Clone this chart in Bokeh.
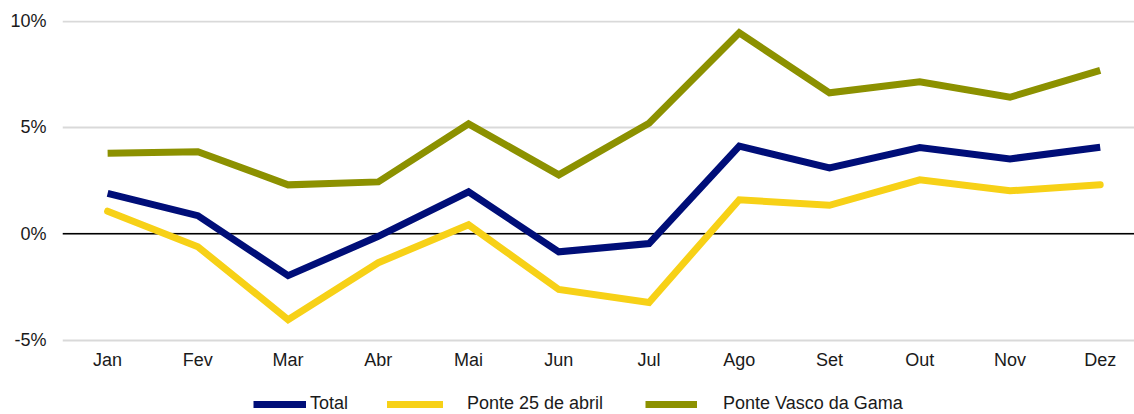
from bokeh.plotting import figure
from bokeh.models import (FixedTicker, PrintfTickFormatter, Span, Legend, LegendItem,
                          Range1d, LinearAxis)
from bokeh.embed import file_html
from bokeh.resources import INLINE

months = ["Jan", "Fev", "Mar", "Abr", "Mai", "Jun", "Jul", "Ago", "Set", "Out", "Nov", "Dez"]
total = [1.9, 0.85, -1.97, -0.12, 1.97, -0.85, -0.46, 4.12, 3.1, 4.05, 3.52, 4.07]
ponte25 = [1.06, -0.61, -4.04, -1.36, 0.42, -2.62, -3.23, 1.6, 1.34, 2.54, 2.02, 2.3]
vasco = [3.79, 3.86, 2.3, 2.44, 5.17, 2.77, 5.2, 9.45, 6.63, 7.15, 6.42, 7.68]
yticks = [-5, 0, 5, 10]
series_names = ["Total", "Ponte 25 de abril", "Ponte Vasco da Gama"]

FONT = "Liberation Sans"
FS = "18px"
Y_MIN, Y_MAX = -5.02, 10.03

# frame reaches the bottom of the canvas so the legend underneath is drawn inside it
p = figure(frame_width=1072, frame_height=394, output_backend="svg", toolbar_location=None,
           x_range=Range1d(-0.5, 11.38), y_range=Range1d(-8.5, Y_MAX),
           x_axis_location=None,
           min_border_left=62, min_border_right=0, min_border_top=20, min_border_bottom=0)
p.outline_line_color = None
p.background_fill_color = "white"
p.border_fill_color = "white"

x = list(range(len(months)))

p.xgrid.grid_line_color = None
p.ygrid.grid_line_color = "#D9D9D9"
p.ygrid.grid_line_width = 2

zero = Span(location=0, dimension="width", line_color="black", line_width=1.5, level="underlay")
p.add_layout(zero)

r1 = p.line(x, total, line_color="#000E78", line_width=7, line_join="miter")
r2 = p.line(x, ponte25, line_color="#F7D117", line_width=7, line_join="miter", line_cap="round")
r3 = p.line(x, vasco, line_color="#8C9100", line_width=7, line_join="miter")

xax = LinearAxis(ticker=FixedTicker(ticks=x), fixed_location=Y_MIN)
xax.major_label_overrides = {i: m for i, m in enumerate(months)}
xax.axis_line_color = None
xax.major_tick_line_color = None
xax.minor_tick_line_color = None
xax.major_label_text_font = FONT
xax.major_label_text_font_size = FS
xax.major_label_text_color = "#1a1a1a"
xax.major_label_standoff = 3
p.add_layout(xax, "below")

p.yaxis.ticker = FixedTicker(ticks=yticks)
p.yaxis.formatter = PrintfTickFormatter(format="%d%%")
p.yaxis.axis_line_color = None
p.yaxis.major_tick_line_color = None
p.yaxis.minor_tick_line_color = None
p.yaxis.major_label_text_font = FONT
p.yaxis.major_label_text_font_size = FS
p.yaxis.major_label_text_color = "#1a1a1a"
p.yaxis.major_label_standoff = 10

# one legend per item so each can have its own gap, as in the reference
specs = [(r1, series_names[0], 191, 53, 4),
         (r2, series_names[1], 325, 56, 24),
         (r3, series_names[2], 583, 52, 26)]
for r, name, lx, gw, st in specs:
    lg = Legend(items=[LegendItem(label=name, renderers=[r])], location=(lx, 0))
    lg.label_text_font = FONT
    lg.label_text_font_size = FS
    lg.label_text_color = "#1a1a1a"
    lg.glyph_width = gw
    lg.glyph_height = 16
    lg.label_height = 16
    lg.label_standoff = st
    lg.border_line_color = None
    lg.background_fill_alpha = 0
    lg.margin = 0
    lg.padding = 0
    p.add_layout(lg, "center")

open("out.html", "w").write(file_html(p, INLINE))
